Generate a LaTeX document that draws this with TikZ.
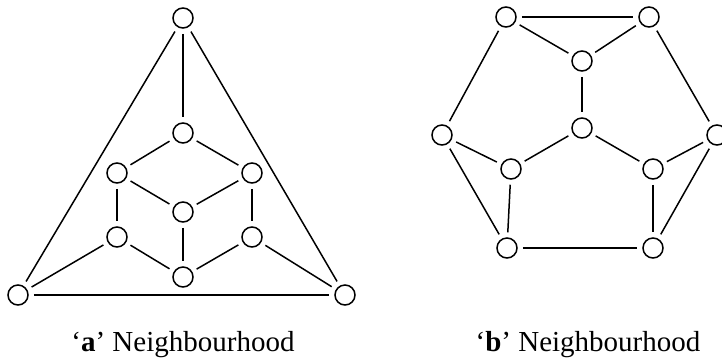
\documentclass[tikz,border=0pt]{standalone}
\usepackage{fontspec}
\setmainfont{Liberation Serif}
\usetikzlibrary{positioning}

\begin{document}
\begin{tikzpicture}[
    x=1pt, y=-1pt,
    vertex/.style={circle, draw, line width=1.5pt, minimum size=20pt, inner sep=0pt},
    link/.style={line width=1.5pt, shorten <=5pt, shorten >=5pt},
    caption/.style={anchor=base, font=\fontsize{29}{34}\selectfont}
]
\useasboundingbox (0,0) rectangle (722,360);

% 'a' neighbourhood
\node[vertex] (a_top) at (183,18) {};
\node[vertex] (a_left) at (18,295) {};
\node[vertex] (a_right) at (345,295) {};
\node[vertex] (a_up) at (183,133) {};
\node[vertex] (a_ul) at (117,173) {};
\node[vertex] (a_ur) at (252,173) {};
\node[vertex] (a_mid) at (183,212) {};
\node[vertex] (a_ll) at (117,237) {};
\node[vertex] (a_lr) at (252,237) {};
\node[vertex] (a_down) at (183,277) {};

\draw[link] (a_top) -- (a_left);
\draw[link] (a_top) -- (a_right);
\draw[link] (a_left) -- (a_right);
\draw[link] (a_top) -- (a_up);
\draw[link] (a_left) -- (a_ll);
\draw[link] (a_right) -- (a_lr);
\draw[link] (a_up) -- (a_ul);
\draw[link] (a_up) -- (a_ur);
\draw[link] (a_ul) -- (a_mid);
\draw[link] (a_ur) -- (a_mid);
\draw[link] (a_ul) -- (a_ll);
\draw[link] (a_ur) -- (a_lr);
\draw[link] (a_mid) -- (a_down);
\draw[link] (a_ll) -- (a_down);
\draw[link] (a_lr) -- (a_down);

% 'b' neighbourhood
\node[vertex] (b_tl) at (506,17) {};
\node[vertex] (b_tr) at (649,17) {};
\node[vertex] (b_up) at (582,61) {};
\node[vertex] (b_mid) at (582,128) {};
\node[vertex] (b_left) at (442,135) {};
\node[vertex] (b_right) at (717,135) {};
\node[vertex] (b_il) at (511,169) {};
\node[vertex] (b_ir) at (653,169) {};
\node[vertex] (b_bl) at (507,248) {};
\node[vertex] (b_br) at (653,248) {};

\draw[link] (b_tl) -- (b_tr);
\draw[link] (b_tl) -- (b_up);
\draw[link] (b_tr) -- (b_up);
\draw[link] (b_tl) -- (b_left);
\draw[link] (b_tr) -- (b_right);
\draw[link] (b_up) -- (b_mid);
\draw[link] (b_mid) -- (b_il);
\draw[link] (b_mid) -- (b_ir);
\draw[link] (b_left) -- (b_il);
\draw[link] (b_right) -- (b_ir);
\draw[link] (b_left) -- (b_bl);
\draw[link] (b_right) -- (b_br);
\draw[link] (b_il) -- (b_bl);
\draw[link] (b_ir) -- (b_br);
\draw[link] (b_bl) -- (b_br);

% Captions
\node[caption] (cap_a) at (183,351) {`\textbf{a}' Neighbourhood};
\node[caption] (cap_b) at (588,351) {`\textbf{b}' Neighbourhood};

\end{tikzpicture}
\end{document}
